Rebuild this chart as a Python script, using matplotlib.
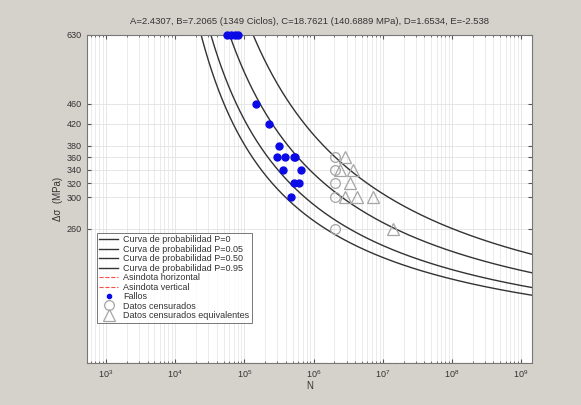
import numpy as np
import matplotlib
matplotlib.use("Agg")
import matplotlib.pyplot as plt

plt.rcParams["font.family"] = ["Liberation Sans", "DejaVu Sans"]
plt.rcParams["mathtext.fontset"] = "custom"
plt.rcParams["mathtext.rm"] = "Liberation Sans"

# Weibull S-N model parameters
beta = 2.4307           # A
B = 7.2065              # ln(N0), 1349 ciclos
sigma0 = 140.6889       # MPa, horizontal asymptote
delta = 1.6534          # D
lam = 4.30
probs = [0, 0.05, 0.50, 0.95]

# failures
fail_N = [5.6e4, 6.4e4, 7.3e4, 8.1e4, 1.46e5, 2.26e5, 3.16e5,
          2.96e5, 3.82e5, 5.15e5, 5.45e5, 3.65e5, 6.5e5, 5.26e5, 6.1e5, 4.67e5]
fail_S = [630, 630, 630, 630, 460, 420, 380,
          360, 360, 360, 360, 340, 340, 320, 320, 300]

# run-outs
cens_N = [2.04e6, 2.04e6, 2.04e6, 2.04e6, 2.04e6]
cens_S = [360, 340, 320, 300, 260]

# equivalent run-outs
equiv_N = [2.87e6, 2.4e6, 3.75e6, 3.39e6, 2.87e6, 4.2e6, 7.15e6, 1.39e7]
equiv_S = [360, 340, 340, 320, 300, 300, 300, 260]

yticks = [260, 300, 320, 340, 360, 380, 420, 460, 630]
xdecades = [3, 4, 5, 6, 7, 8, 9]
title = ("A=2.4307, B=7.2065 (1349 Ciclos), C=18.7621 (140.6889 MPa), "
         "D=1.6534, E=-2.538")

fig = plt.figure(figsize=(5.81, 4.05), dpi=100, facecolor="#d5d2cc")
ax = fig.add_axes([0.1497, 0.1037, 0.7660, 0.8099])
ax.set_xscale("log")
ax.set_yscale("log")
xmin, xmax = 10 ** 2.725, 10 ** 9.159
ax.set_xlim(xmin, xmax)
ax.set_ylim(sigma0, 630)

lnN = np.linspace(B + 1e-3, np.log(xmax) + 0.1, 3000)
curve_labels = ["Curva de probabilidad P=0", "Curva de probabilidad P=0.05",
                "Curva de probabilidad P=0.50", "Curva de probabilidad P=0.95"]
for p, lab in zip(probs, curve_labels):
    K = lam + delta * (-np.log(1 - p)) ** (1 / beta)
    S = np.exp(np.log(sigma0) + K / (lnN - B))
    ax.plot(np.exp(lnN), S, color="#333333", lw=1.0, label=lab)

ax.axhline(sigma0, color="#ff4a4a", ls="--", lw=0.8, label="Asindota horizontal")
ax.plot([], [], color="#ff4a4a", ls="--", lw=0.8, label="Asindota vertical")

ax.plot(fail_N, fail_S, "o", color="#0a0ae6", ms=5, ls="none",
        label="Fallos", clip_on=False, zorder=5)
ax.plot(cens_N, cens_S, "o", mfc="none", mec="#a5a5a5", ms=7, mew=0.9,
        ls="none", label="Datos censurados")
ax.plot(equiv_N, equiv_S, "^", mfc="none", mec="#a5a5a5", ms=8.5, mew=0.9,
        ls="none", label="Datos censurados equivalentes")

# ticks and grid
ax.set_yticks(yticks)
ax.set_yticklabels([str(v) for v in yticks])
ax.yaxis.set_minor_locator(matplotlib.ticker.NullLocator())
ax.set_xticks([10.0 ** d for d in xdecades])
ax.set_xticklabels([r"$10^{%d}$" % d for d in xdecades])
ax.xaxis.set_minor_locator(matplotlib.ticker.LogLocator(base=10, subs=np.arange(2, 10), numticks=100))
ax.xaxis.set_minor_formatter(matplotlib.ticker.NullFormatter())
ax.grid(True, which="major", color="#e2e2e2", lw=0.6)
ax.grid(True, which="minor", axis="x", color="#e8e8e8", lw=0.6)
ax.set_axisbelow(True)

ax.tick_params(which="both", direction="in", top=True, right=True,
               labelsize=6.5, colors="#555555", labelcolor="#333333", length=3)
ax.tick_params(which="minor", length=1.5)
for sp in ax.spines.values():
    sp.set_color("#777777")
    sp.set_linewidth(0.8)

ax.set_xlabel("N", fontsize=7, color="#333333", labelpad=1)
ax.set_ylabel("Δσ  (MPa)", fontsize=7, color="#333333", labelpad=3)
ax.set_title(title, fontsize=6.8, color="#333333", pad=8)

leg = ax.legend(loc="upper left", bbox_to_anchor=(0.022, 0.397), borderaxespad=0,
                fontsize=6.5, frameon=True, fancybox=False, handlelength=2.0,
                labelspacing=0.05, borderpad=0.3, handletextpad=0.6)
leg.get_frame().set_edgecolor("#555555")
leg.get_frame().set_linewidth(0.7)
leg.legend_handles[6].set_markersize(3)
for t in leg.get_texts():
    t.set_color("#333333")

fig.savefig("out.png", dpi=100, facecolor=fig.get_facecolor())
